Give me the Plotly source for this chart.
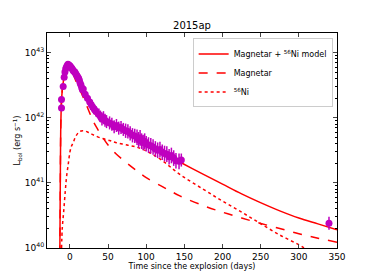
import plotly.graph_objects as go
import numpy as np

# Observed bolometric light curve (days since explosion, log10 L, error in dex)
obs_t = [-11.0, -11.0, -8.8, -7.5, -6.5, -5.5, -4.5, -3.5, -2.5, -1.5, -0.5, 0.5, 1.5, 2.5,
         3.5, 4.5, 5.5, 6.5, 7.5, 8.5, 9.5, 10.5, 11.5, 12.5, 13.5, 14.5, 15.5, 16.5, 17.5,
         20, 23, 26, 28, 30, 32, 34, 38, 40, 42, 44, 46, 48, 52, 55, 58, 61, 64, 67, 70,
         73, 76, 79, 82, 85, 88, 90, 92, 94, 96, 98, 100, 103, 106, 109, 112, 115, 118,
         121, 124, 127, 130, 133, 136, 139, 143, 146, 339.5]
obs_logL = [42.15, 42.28, 42.48, 42.62, 42.70, 42.75, 42.78, 42.80, 42.82, 42.81, 42.80, 42.79,
            42.77, 42.76, 42.74, 42.72, 42.71, 42.70, 42.68, 42.66, 42.64, 42.62, 42.60, 42.57,
            42.53, 42.50, 42.46, 42.43, 42.44, 42.36, 42.30, 42.24, 42.20, 42.16, 42.13, 42.10,
            42.05, 42.02, 41.98, 42.00, 41.96, 41.94, 41.92, 41.90, 41.86, 41.88, 41.84, 41.85,
            41.82, 41.80, 41.79, 41.76, 41.73, 41.72, 41.70, 41.66, 41.69, 41.64, 41.62, 41.64,
            41.60, 41.58, 41.57, 41.55, 41.52, 41.50, 41.51, 41.47, 41.45, 41.44, 41.40, 41.42,
            41.38, 41.34, 41.33, 41.35, 40.38]
obs_err = [0.05, 0.05, 0.04, 0.04, 0.04, 0.04, 0.04, 0.04, 0.04, 0.04, 0.04, 0.04, 0.04, 0.04,
           0.04, 0.05, 0.05, 0.05, 0.05, 0.05, 0.05, 0.05, 0.05, 0.06, 0.06, 0.06, 0.06, 0.06,
           0.06, 0.07, 0.07, 0.08, 0.08, 0.08, 0.08, 0.08, 0.09, 0.09, 0.10, 0.10, 0.10, 0.10,
           0.10, 0.10, 0.10, 0.10, 0.10, 0.10, 0.10, 0.11, 0.11, 0.11, 0.11, 0.11, 0.12, 0.12,
           0.12, 0.12, 0.12, 0.12, 0.12, 0.12, 0.12, 0.12, 0.12, 0.12, 0.12, 0.12, 0.12, 0.12,
           0.12, 0.12, 0.12, 0.12, 0.12, 0.10, 0.10]

# Model curves
tot_t = [-13.2, -12.8, -12.4, -12.0, -11.5, -11, -10, -8, -6, -4, -2, 0, 2, 5, 10, 15, 20, 25,
         30, 40, 50, 60, 75, 90, 100, 120, 144, 175, 200, 225, 249, 275, 300, 325, 350]
tot_logL = [39.9, 40.6, 41.3, 41.85, 42.1, 42.25, 42.42, 42.6, 42.72, 42.79, 42.82, 42.81,
            42.78, 42.72, 42.58, 42.44, 42.31, 42.2, 42.1, 41.98, 41.92, 41.85, 41.76, 41.66,
            41.6, 41.47, 41.32, 41.13, 40.98, 40.83, 40.70, 40.57, 40.46, 40.37, 40.28]

mag_t = [-13.2, -12.8, -12.4, -12.0, -11.5, -11, -10, -8, -6, -4, -2, 0, 2, 5, 10, 15, 20, 25,
         30, 35, 44, 50, 60, 75, 87, 100, 120, 131, 144, 175, 200, 225, 249, 275, 300, 325, 350]
mag_logL = [39.9, 40.6, 41.3, 41.85, 42.1, 42.25, 42.42, 42.6, 42.71, 42.77, 42.79, 42.77,
            42.73, 42.65, 42.5, 42.38, 42.24, 42.1, 41.96, 41.85, 41.68, 41.58, 41.45, 41.3,
            41.19, 41.08, 40.95, 40.88, 40.80, 40.65, 40.55, 40.46, 40.38, 40.30, 40.22,
            40.15, 40.09]

ni_t = [-10.9, -10, -8, -6, -4.4, -2, 0, 2, 4.4, 8, 13, 18, 25, 30, 40, 52, 60, 75, 87, 100,
        120, 144, 175, 200, 225, 249, 275, 300, 310, 330, 350]
ni_logL = [40.0, 40.3, 40.58, 40.88, 41.09, 41.3, 41.47, 41.56, 41.62, 41.72, 41.79, 41.8,
           41.77, 41.74, 41.69, 41.65, 41.62, 41.58, 41.55, 41.49, 41.35, 41.13, 40.9, 40.72,
           40.55, 40.38, 40.2, 40.05, 39.98, 39.85, 39.72]

y_ticks = [1e40, 1e41, 1e42, 1e43]
y_ticktext = ["10<sup>40</sup>", "10<sup>41</sup>", "10<sup>42</sup>", "10<sup>43</sup>"]
x_ticks = [0, 50, 100, 150, 200, 250, 300, 350]

RED = "#ff0000"
MAG = "#bf00bf"
FONT = "DejaVu Sans"

obsL = np.power(10.0, obs_logL)
e = np.array(obs_err)
err_plus = obsL * (np.power(10.0, e) - 1)
err_minus = obsL * (1 - np.power(10.0, -e))

fig = go.Figure()
fig.add_trace(go.Scatter(x=tot_t, y=np.power(10.0, tot_logL), mode="lines",
                         line=dict(color=RED, width=1.5, shape="spline"),
                         name="Magnetar + <sup>56</sup>Ni model"))
fig.add_trace(go.Scatter(x=mag_t, y=np.power(10.0, mag_logL), mode="lines",
                         line=dict(color=RED, width=1.5, dash="dash", shape="spline"),
                         name="Magnetar"))
fig.add_trace(go.Scatter(x=ni_t, y=np.power(10.0, ni_logL), mode="lines",
                         line=dict(color=RED, width=1.5, dash="dot", shape="spline"),
                         name="<sup>56</sup>Ni"))
fig.add_trace(go.Scatter(x=obs_t, y=obsL, mode="markers",
                         marker=dict(color=MAG, size=7),
                         error_y=dict(type="data", symmetric=False, array=err_plus,
                                      arrayminus=err_minus, color=MAG, thickness=1.5, width=0),
                         showlegend=False))

minor_vals = [m * 10.0 ** d for d in (40, 41, 42) for m in range(2, 10)] + [2e43]

fig.update_layout(
    width=374, height=280,
    margin=dict(l=47, r=37, t=33, b=32),
    paper_bgcolor="white", plot_bgcolor="white",
    font=dict(family=FONT, size=8, color="black"),
    title=dict(text="2015ap", x=0.5, xref="paper", y=1 - 25 / 280, yref="container",
               xanchor="center", yanchor="middle", font=dict(size=10)),
    legend=dict(x=0.985, y=0.975, xanchor="right", yanchor="top",
                bgcolor="white", bordercolor="#cccccc", borderwidth=1,
                font=dict(size=8), tracegroupgap=0, itemwidth=30),
    showlegend=True,
)
fig.update_xaxes(range=[-30, 350], tickvals=x_ticks, ticks="inside", ticklen=4,
                 showline=True, linecolor="black", linewidth=1, mirror="allticks",
                 showgrid=False, zeroline=False, automargin=False,
                 tickfont=dict(size=9),
                 title=dict(text="Time since the explosion (days)", standoff=2, font=dict(size=8)))
fig.update_yaxes(type="log", range=[40, 43.3], tickvals=y_ticks, ticktext=y_ticktext,
                 ticks="inside", ticklen=4, automargin=False,
                 tickfont=dict(size=9),
                 minor=dict(tickvals=minor_vals, ticks="inside", ticklen=2, tickcolor="black"),
                 showline=True, linecolor="black", linewidth=1, mirror="allticks",
                 showgrid=False, zeroline=False,
                 title=dict(text="L<sub>bol</sub> (erg s<sup>−1</sup>)", standoff=2,
                            font=dict(size=8)))

fig.write_html("out.html", config={"displayModeBar": False},
               post_script="document.body.style.margin='0px';")
